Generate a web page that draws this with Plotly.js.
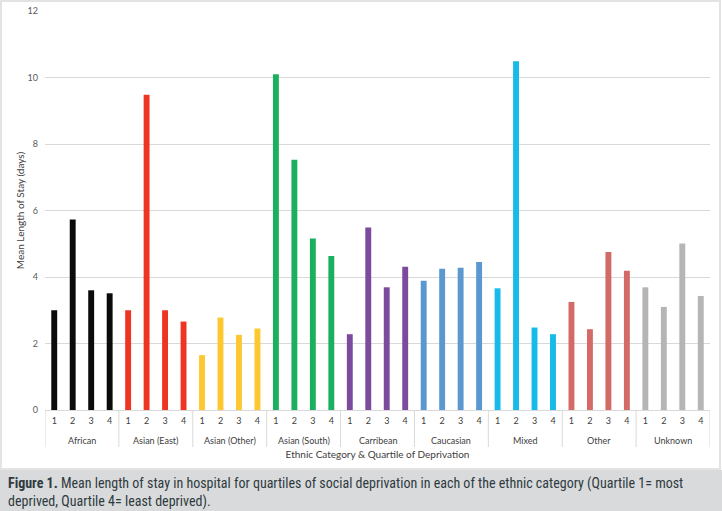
<!DOCTYPE html>
<html>
<head>
<meta charset="utf-8">
<script src="https://cdn.plot.ly/plotly-3.0.1.min.js"></script>
<style>
html,body{margin:0;padding:0;background:#fff;}
#chart{width:722px;height:511px;}
</style>
</head>
<body>
<div id="chart"></div>
<script>
// Data
const categories = ["African","Asian (East)","Asian (Other)","Asian (South)","Carribean","Caucasian","Mixed","Other","Unknown"];
const quartiles = ["1","2","3","4"];
const african     = [3.0, 5.73, 3.6, 3.51];
const asianEast   = [3.0, 9.48, 3.0, 2.66];
const asianOther  = [1.65, 2.78, 2.26, 2.45];
const asianSouth  = [10.1, 7.53, 5.16, 4.63];
const carribean   = [2.28, 5.49, 3.69, 4.31];
const caucasian   = [3.89, 4.25, 4.28, 4.45];
const mixed       = [3.66, 10.49, 2.48, 2.28];
const other       = [3.25, 2.43, 4.75, 4.19];
const unknown     = [3.69, 3.10, 5.01, 3.43];
const groupColors = ["#0b0b0b","#ee3524","#fdc82f","#1bb060","#7d4b9d","#5b98d0","#17bbe9","#d36a66","#b5b5b5"];

const series = [african, asianEast, asianOther, asianSouth, carribean, caucasian, mixed, other, unknown];

const xIdx = [], xLab = [], yVals = [], cols = [];
categories.forEach((c, i) => {
  quartiles.forEach((q, j) => {
    xIdx.push(i * quartiles.length + j); xLab.push(q); yVals.push(series[i][j]); cols.push(groupColors[i]);
  });
});

const W = 722, H = 511, ml = 45, mr = 12, mt = 11, mb = 101;
const pw = W - ml - mr, ph = H - mt - mb;
const px = v => (v - ml) / pw;
const py = v => (H - mb - v) / ph;
const nQ = quartiles.length;

const trace = {
  type: "bar",
  x: xIdx,
  y: yVals,
  marker: {color: cols},
  hoverinfo: "y"
};

const shapes = [
  {type: "rect", xref: "paper", yref: "paper", x0: px(0), x1: px(722), y0: py(511), y1: py(470),
   fillcolor: "#d8dadb", line: {width: 0}, layer: "below"},
  {type: "rect", xref: "paper", yref: "paper", x0: px(1), x1: px(720), y0: py(469), y1: py(1),
   fillcolor: "rgba(0,0,0,0)", line: {width: 2, color: "#e3e3e3"}, layer: "below"}
];
for (let i = 0; i <= categories.length; i++) {
  shapes.push({type: "line", xref: "x", yref: "paper", x0: i * nQ - 0.5, x1: i * nQ - 0.5,
    y0: py(410), y1: py(447), line: {color: "#d9d9d9", width: 1}});
}

const capFont = {size: 14, color: "#2f3a40", family: "'Liberation Sans Narrow', 'Roboto Condensed', Lato, sans-serif"};
const annotations = categories.map((c, i) => ({
  xref: "x", yref: "paper", x: i * nQ + (nQ - 1) / 2, y: py(440), xanchor: "center", yanchor: "middle",
  showarrow: false, text: c, font: {size: 9, color: "#404040"}
}));
annotations.push(
  {xref: "paper", yref: "paper", x: px(6), y: py(492.5), xanchor: "left", yanchor: "middle", showarrow: false,
   align: "left",
   text: "<b>Figure 1.</b> Mean length of stay in hospital for quartiles of social deprivation in each of the ethnic category (Quartile 1= most<br>deprived, Quartile 4= least deprived).",
   font: capFont}
);

const layout = {
  width: W, height: H,
  margin: {l: ml, r: mr, t: mt, b: mb},
  paper_bgcolor: "#ffffff",
  plot_bgcolor: "#ffffff",
  bargap: 0.68,
  showlegend: false,
  font: {family: "Lato, 'Open Sans', sans-serif", color: "#404040"},
  xaxis: {
    type: "linear",
    range: [-0.5, categories.length * nQ - 0.5],
    tickmode: "array",
    tickvals: xIdx,
    ticktext: xLab,
    showline: true,
    linecolor: "#d9d9d9",
    linewidth: 1,
    ticks: "",
    ticklabelstandoff: 2,
    zeroline: false,
    showgrid: false,
    tickfont: {size: 9, color: "#404040"},
    title: {text: "Ethnic Category & Quartile of Deprivation", font: {size: 10, color: "#404040"}, standoff: 26}
  },
  yaxis: {
    range: [0, 12],
    dtick: 2,
    tick0: 0,
    showgrid: true,
    gridcolor: "#d9d9d9",
    gridwidth: 1,
    zeroline: false,
    showline: false,
    ticks: "",
    ticklabelstandoff: 6,
    tickfont: {size: 9, color: "#595959"},
    title: {text: "Mean Length of Stay (days)", font: {size: 10, color: "#404040"}, standoff: 1}
  },
  shapes: shapes,
  annotations: annotations
};

Plotly.newPlot("chart", [trace], layout, {displayModeBar: false, staticPlot: true});
</script>
</body>
</html>
